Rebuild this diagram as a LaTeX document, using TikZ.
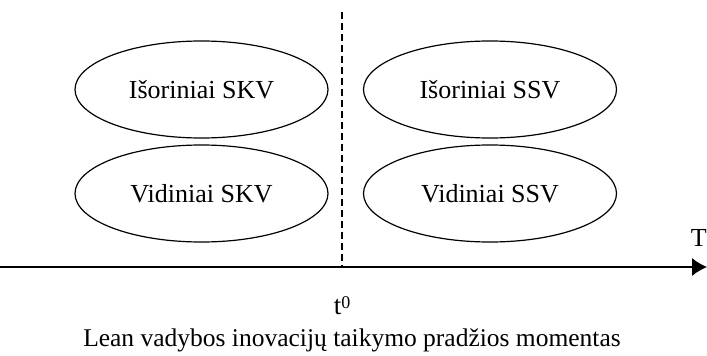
\documentclass[tikz,border=0pt]{standalone}
\usepackage{fontspec}
\setmainfont{Liberation Serif}
\usetikzlibrary{shapes.geometric,arrows.meta}
\tikzset{
  oval/.style={draw, ellipse, line width=1.2pt, minimum width=253pt, minimum height=97pt, inner sep=0pt, font=\fontsize{26}{30}\selectfont},
  axisline/.style={line width=1.2pt, -{Latex[length=15pt,width=18pt]}},
  divider/.style={line width=1.2pt, dash pattern=on 7pt off 4pt},
  lbl/.style={inner sep=0pt}
}
\begin{document}
\begin{tikzpicture}[x=1pt,y=-1pt]
\useasboundingbox (0,0) rectangle (707,356);
\node[oval] (ik) at (201.5,89.5) {Išoriniai SKV};
\node[oval] (vk) at (201.5,193.5) {Vidiniai SKV};
\node[oval] (is) at (490,89.5) {Išoriniai SSV};
\node[oval] (vs) at (490,193.5) {Vidiniai SSV};
\coordinate (a0) at (0,267);
\coordinate (a1) at (707,267);
\coordinate (dtop) at (342,12);
\coordinate (dbot) at (342,267);
\draw[divider] (dtop) -- (dbot);
\draw[axisline] (a0) -- (a1);
\node[lbl, anchor=base east, font=\fontsize{26}{30}\selectfont] (T) at (707,246) {T};
\node[lbl, anchor=base, font=\fontsize{27}{30}\selectfont] (t0) at (342,314) {t\raisebox{5.5pt}{\fontsize{18}{20}\selectfont 0}};
\node[lbl, anchor=base, font=\fontsize{25.5}{30}\selectfont] (cap) at (352,346) {Lean vadybos inovacijų taikymo pradžios momentas};
\end{tikzpicture}
\end{document}
